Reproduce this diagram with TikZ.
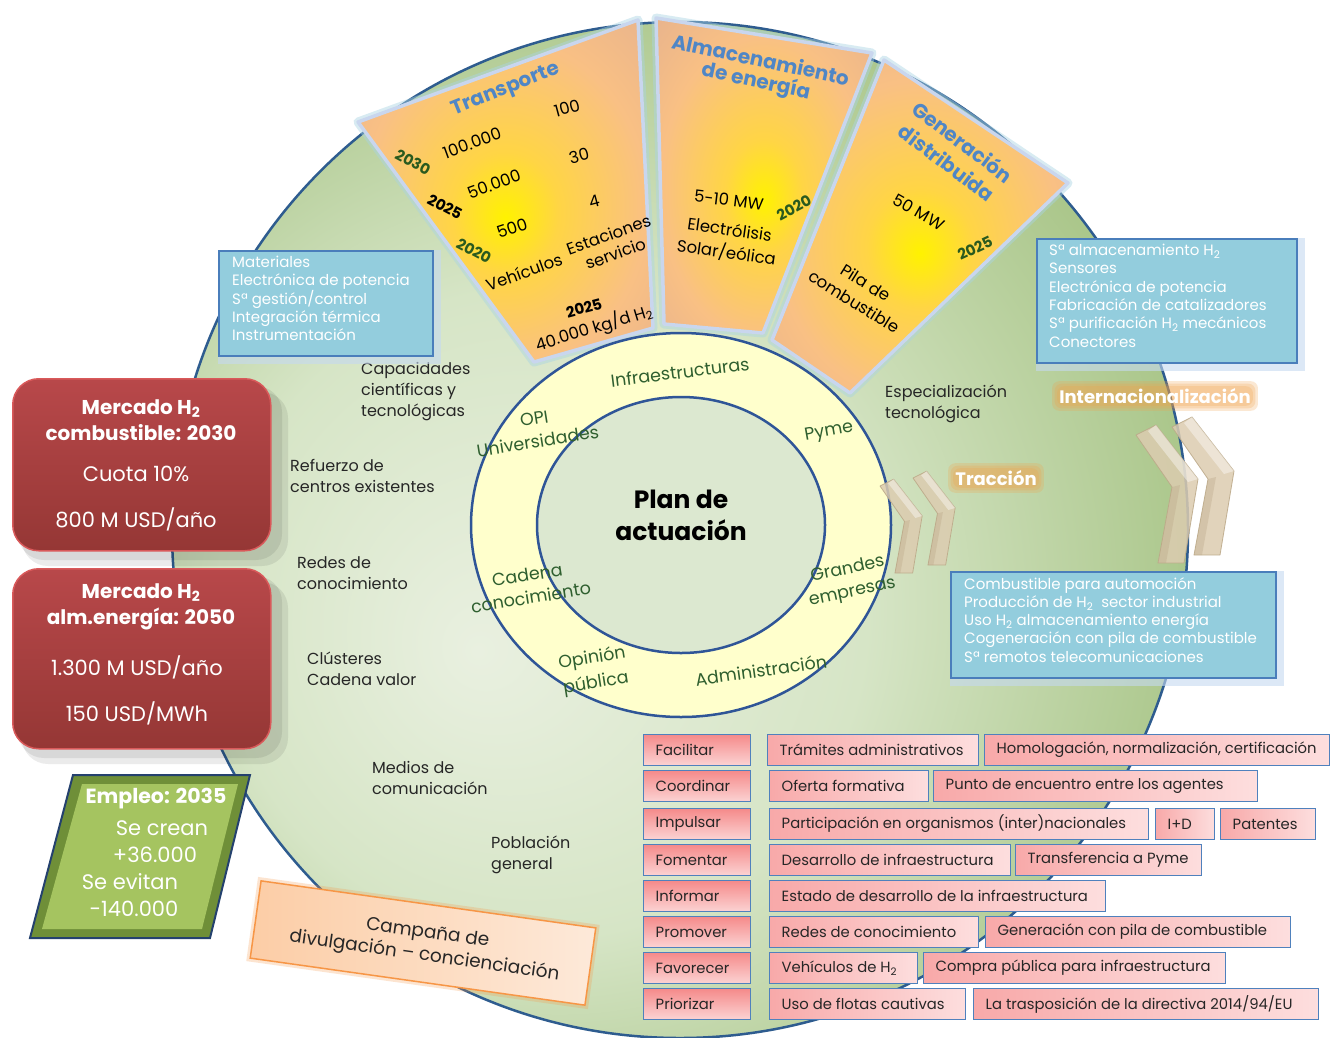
\documentclass[tikz,border=0pt]{standalone}
\usepackage{fontspec}
\setmainfont{Poppins}
\usetikzlibrary{calc}
\definecolor{gdA}{HTML}{E9F0E0}
\definecolor{gdB}{HTML}{D6E5C6}
\definecolor{gdC}{HTML}{A0BF7C}
\definecolor{gdD}{HTML}{6F9A4A}
\definecolor{sy1}{HTML}{FFF200}
\definecolor{sy2}{HTML}{FFD545}
\definecolor{sy3}{HTML}{F9C084}
\definecolor{sy4}{HTML}{E6B28E}
\definecolor{sy5}{HTML}{9C8F76}
\definecolor{diskblue}{HTML}{2E5C8F}
\definecolor{ringblue}{HTML}{2F5597}
\definecolor{ringyel}{HTML}{FFFFCC}
\definecolor{innergr}{HTML}{DCE8D0}
\definecolor{ringtxt}{HTML}{2F5F2F}
\definecolor{secttitle}{HTML}{4F86C6}
\definecolor{yeargreen}{HTML}{2A5A1E}
\definecolor{sectborder}{HTML}{C9D6EE}
\definecolor{sectglow}{HTML}{A9D4E4}
\definecolor{infofill}{HTML}{93CDDD}
\definecolor{infoborder}{HTML}{4A7EBB}
\definecolor{infoglow}{HTML}{C5D9F1}
\definecolor{redA}{HTML}{B8484A}
\definecolor{redB}{HTML}{953735}
\definecolor{redrim}{HTML}{D9595A}
\definecolor{empA}{HTML}{A5C460}
\definecolor{empB}{HTML}{6F8F38}
\definecolor{navy}{HTML}{24416E}
\definecolor{campA}{HTML}{FCCDA6}
\definecolor{campB}{HTML}{FDE9D9}
\definecolor{campBorder}{HTML}{F79646}
\definecolor{chevfill}{HTML}{DCCCB0}
\definecolor{chevedge}{HTML}{BBA888}
\definecolor{glowor}{HTML}{F2A24A}
\definecolor{pinkA}{HTML}{F8A9A9}
\definecolor{pinkB}{HTML}{FDDEDE}
\definecolor{verbA}{HTML}{F58A8A}
\definecolor{verbB}{HTML}{FBD3D3}
\definecolor{cellborder}{HTML}{4F81BD}
\definecolor{txtgray}{HTML}{262626}

\pgfdeclareradialshading{greendisk}{\pgfpoint{-10bp}{-6bp}}{color(0bp)=(gdA); color(16bp)=(gdB); color(33bp)=(gdC); color(50bp)=(gdD)}
\pgfdeclareradialshading{sectorsh}{\pgfpoint{0bp}{-4bp}}{color(0bp)=(sy1); color(9bp)=(sy2); color(24bp)=(sy3); color(38bp)=(sy4); color(50bp)=(sy5)}

\newcommand\fsz[2]{\fontsize{#1}{#2}\selectfont}

\tikzset{
  sectline/.style={draw=sectborder, line width=3.5pt, line join=round},
  sectglowline/.style={draw=sectglow, line width=9pt, opacity=0.45, line join=round},
  stitle/.style={text=secttitle, font=\fsz{20}{22}\bfseries, inner sep=0pt, align=center},
  snum/.style={text=black, font=\fsz{16.5}{18}, inner sep=0pt, align=center},
  syearg/.style={text=yeargreen, font=\fsz{15}{17}\bfseries, inner sep=0pt},
  syearb/.style={text=black, font=\fsz{15}{17}\bfseries, inner sep=0pt},
  ringlbl/.style={text=ringtxt, font=\fsz{17.5}{23}, inner sep=0pt, align=center},
  infobox/.style={fill=infofill, draw=infoborder, line width=1.5pt, inner sep=0pt, anchor=north west},
  infoglowbox/.style={draw=infoglow, line width=9pt, opacity=0.6, inner sep=0pt, anchor=north west},
  infotext/.style={text=white, font=\fsz{15}{18.3}, align=left, inner sep=0pt, anchor=north west},
  lbl/.style={text=txtgray, font=\fsz{16}{21}, align=left, inner sep=0pt, anchor=north west},
  redbox/.style={rounded corners=26pt, top color=redA, bottom color=redB, draw=redrim, line width=1.5pt, inner sep=0pt, anchor=north west},
  redtxtb/.style={text=white, font=\fsz{20}{22}\bfseries, inner sep=0pt},
  redtxt/.style={text=white, font=\fsz{21}{23}, inner sep=0pt},
  emptxt/.style={text=white, font=\fsz{21}{23}, inner sep=0pt},
  cellbox/.style={draw=cellborder, line width=1.3pt, left color=pinkA, right color=pinkB, minimum height=31pt, inner sep=0pt},
  verbbox/.style={draw=cellborder, line width=1.3pt, top color=verbA, bottom color=verbB, minimum height=31pt, inner sep=0pt},
  celltxt/.style={text=txtgray, font=\fsz{14.8}{16}, inner sep=0pt},
  glowfont/.style={font=\fsz{18}{20}\bfseries, inner sep=0pt},
  chev/.style={fill=chevfill, draw=chevedge, line width=0.8pt, opacity=0.85, line join=round},
}

\newcommand\cell[6]{%
  \pgfmathsetmacro\cw{#4-#3}%
  \node[#2, minimum width=\cw pt, anchor=west] (#1) at (#3,#5) {};
  \node[celltxt, anchor=west] (#1t) at ([xshift=12.5pt]#1.west) {#6};}

\newcommand\glowtext[4]{%
  \path node[glowfont] (#1ph) at (#2,#3) {\phantom{#4}};
  \foreach \g in {7,4.5,2}
    {\fill[glowor, opacity=0.24, rounded corners=7pt] ([shift={(-\g,\g)}]#1ph.south west) rectangle ([shift={(\g,-\g)}]#1ph.north east);}
  \node[glowfont, text=white] (#1) at (#2,#3) {#4};}

\newcommand\chevron[4]{% name, x, y, scale
  \begin{scope}[shift={(#2,#3)}, scale=#4]
    \coordinate (#1) at (0,0);
    \path[chev] (#1) -- (20,-10) -- (62,44) -- (48,128) -- (22,128) -- (36,52) -- cycle;
    \path[fill=white, opacity=0.4] (20,-10) -- (62,44) -- (52,47) -- (12,-4) -- cycle;
    \path[fill=chevedge, opacity=0.35] (36,52) -- (22,128) -- (30,128) -- (44,50) -- cycle;
  \end{scope}}

\begin{document}
\begin{tikzpicture}[x=1pt,y=-1pt]
\useasboundingbox (0,0) rectangle (1330,1037);
\fill[white] (0,0) rectangle (1330,1037);

% ---------- big green disk
\shade[shading=greendisk] (680,530) circle [radius=508];
\draw[diskblue, line width=2.5pt] (680,530) circle [radius=508];

% ---------- sectors
\path[sectglowline] (358,122) -- (638,20) -- (653,328) -- (534,362) -- cycle;
\path[sectglowline] (656,18) -- (872,53) -- (763,333) -- (664,324) -- cycle;
\path[sectglowline] (884,60) -- (1068,183) -- (850,393) -- (772,340) -- cycle;
\shade[shading=sectorsh] (358,122) -- (638,20) -- (653,328) -- (534,362) -- cycle;
\shade[shading=sectorsh] (656,18) -- (872,53) -- (763,333) -- (664,324) -- cycle;
\shade[shading=sectorsh] (884,60) -- (1068,183) -- (850,393) -- (772,340) -- cycle;
\draw[sectline] (358,122) -- (638,20) -- (653,328) -- (534,362) -- cycle;
\draw[sectline] (656,18) -- (872,53) -- (763,333) -- (664,324) -- cycle;
\draw[sectline] (884,60) -- (1068,183) -- (850,393) -- (772,340) -- cycle;

% transport texts
\node[stitle, rotate=22] (tTitle) at (506,90) {Transporte};
\node[snum, rotate=20] (t1) at (472,143) {100.000};
\node[snum, rotate=15] (t2) at (567,108) {100};
\node[syearg, rotate=-28] (t3) at (413,162) {2030};
\node[snum, rotate=20] (t4) at (494,184) {50.000};
\node[snum, rotate=15] (t5) at (579,156) {30};
\node[syearb, rotate=-28] (t6) at (445,207) {2025};
\node[snum, rotate=15] (t7) at (594,201) {4};
\node[snum, rotate=18] (t8) at (512,228) {500};
\node[syearg, rotate=-28] (t9) at (474,251) {2020};
\node[snum, rotate=20, font=\fsz{16.5}{20}] (t10) at (612,244) {Estaciones\\servicio};
\node[snum, rotate=20] (t12) at (524,272) {Vehículos};
\node[syearb, rotate=15] (t13) at (584,308) {2025};
\node[snum, rotate=17] (t14) at (594,328) {40.000 kg/d H\textsubscript{2}};

% almacenamiento texts
\node[stitle, rotate=-12, font=\fsz{20}{21}\bfseries] (aTitle) at (758,72) {Almacenamiento\\de energía};
\node[snum, rotate=-7] (a1) at (729,200) {5-10 MW};
\node[syearg, rotate=28] (a2) at (794,208) {2020};
\node[snum, rotate=-8, font=\fsz{16.5}{23}] (a3) at (728,242) {Electrólisis\\Solar/eólica};

% generacion texts
\node[stitle, rotate=-37, font=\fsz{20}{26}\bfseries] (gTitle) at (955,152) {Generación\\distribuida};
\node[snum, rotate=-30] (g1) at (919,212) {50 MW};
\node[syearg, rotate=25] (g2) at (975,248) {2025};
\node[snum, rotate=-32, font=\fsz{16.5}{22}] (g3) at (860,292) {Pila de\\combustible};

% ---------- central ring
\fill[ringyel] (681,525) ellipse [x radius=210, y radius=192];
\fill[innergr] (681,525) ellipse [x radius=144, y radius=128];
\draw[ringblue, line width=2.5pt] (681,525) ellipse [x radius=210, y radius=192];
\draw[ringblue, line width=2.5pt] (681,525) ellipse [x radius=144, y radius=128];
\node[font=\fsz{25}{32}\bfseries, align=center, inner sep=0pt] (plan) at (681,515) {Plan de\\actuación};

\node[ringlbl, rotate=7] (r1) at (680,372) {Infraestructuras};
\node[ringlbl, rotate=9] (r2) at (536,430) {OPI\\Universidades};
\node[ringlbl, rotate=10] (r4) at (829,432) {Pyme};
\node[ringlbl, rotate=9] (r5) at (529,586) {Cadena\\conocimiento};
\node[ringlbl, rotate=12] (r7) at (850,581) {Grandes\\empresas};
\node[ringlbl, rotate=9, font=\fsz{17.5}{25}] (r9) at (594,671) {Opinión\\pública};
\node[ringlbl, rotate=8] (r11) at (761,670) {Administración};

% ---------- disk labels
\node[lbl] (l1) at (361,362) {Capacidades\\científicas y\\tecnológicas};
\node[lbl] (l2) at (290,459) {Refuerzo de\\centros existentes};
\node[lbl] (l3) at (297,556) {Redes de\\conocimiento};
\node[lbl] (l4) at (307,652) {Clústeres\\Cadena valor};
\node[lbl] (l5) at (372,761) {Medios de\\comunicación};
\node[lbl] (l6) at (491,836) {Población\\general};
\node[lbl] (l7) at (885,385) {Especialización\\tecnológica};

% ---------- chevrons
\chevron{c1}{880}{486}{0.68}
\chevron{c2}{913}{478}{0.68}
\chevron{c3}{1136}{435}{1}
\chevron{c4}{1172}{427}{1}
\glowtext{trac}{996}{478}{Tracción}
\glowtext{inter}{1155}{396}{Internacionalización}

% ---------- blue info boxes
\node[infoglowbox, minimum width=214pt, minimum height=105pt] (b1g) at (218,250) {};
\node[infobox, minimum width=214pt, minimum height=105pt] (b1) at (218,250) {};
\node[infotext] (b1t) at (232,256) {Materiales\\Electrónica de potencia\\Sª gestión/control\\Integración térmica\\Instrumentación};

\node[infoglowbox, minimum width=260pt, minimum height=124pt] (b2g) at (1036,238) {};
\node[infobox, minimum width=260pt, minimum height=124pt] (b2) at (1036,238) {};
\node[infotext] (b2t) at (1049,244) {Sª almacenamiento H\textsubscript{2}\\Sensores\\Electrónica de potencia\\Fabricación de catalizadores\\Sª purificación H\textsubscript{2} mecánicos\\Conectores};

\node[infoglowbox, minimum width=325pt, minimum height=106pt] (b3g) at (950,571) {};
\node[infobox, minimum width=325pt, minimum height=106pt] (b3) at (950,571) {};
\node[infotext] (b3t) at (964,577) {Combustible para automoción\\Producción de H\textsubscript{2}\ \ sector industrial\\Uso H\textsubscript{2} almacenamiento energía\\Cogeneración con pila de combustible\\Sª remotos telecomunicaciones};

% ---------- red market boxes
\fill[black, opacity=0.08, rounded corners=26pt] (18,386) rectangle (282,560);
\fill[black, opacity=0.08, rounded corners=26pt] (22,392) rectangle (288,566);
\fill[black, opacity=0.08, rounded corners=26pt] (18,576) rectangle (282,758);
\fill[black, opacity=0.08, rounded corners=26pt] (22,582) rectangle (288,764);
\node[redbox, minimum width=258pt, minimum height=172pt] (m1) at (12,378) {};
\node[redtxtb, align=center, font=\fsz{20}{26}\bfseries] (m1a) at (141,420) {Mercado H\textsubscript{2}\\combustible: 2030};
\node[redtxt] (m1c) at (136,474) {Cuota 10\%};
\node[redtxt] (m1d) at (136,519) {800 M USD/año};
\node[redbox, minimum width=258pt, minimum height=180pt] (m2) at (12,568) {};
\node[redtxtb, align=center, font=\fsz{20}{26}\bfseries] (m2a) at (141,607) {Mercado H\textsubscript{2}\\alm.energía: 2050};
\node[redtxt] (m2c) at (137,667) {1.300 M USD/año};
\node[redtxt] (m2d) at (137,713) {150 USD/MWh};

% ---------- empleo parallelogram
\fill[empB] (73,775) -- (250,775) -- (210,938) -- (30,938) -- cycle;
\fill[empA] (82,784) -- (238,784) -- (202,929) -- (42,929) -- cycle;
\draw[navy, line width=2pt] (73,775) -- (250,775) -- (210,938) -- (30,938) -- cycle;
\node[emptxt, font=\fsz{20.5}{22}\bfseries] (e1) at (156,799) {Empleo: 2035};
\node[emptxt] (e2) at (162,828) {Se crean};
\node[emptxt] (e3) at (155,855) {+36.000};
\node[emptxt] (e4) at (130,882) {Se evitan};
\node[emptxt] (e5) at (134,909) {-140.000};

% ---------- campaign box
\node[rotate=-8, draw=campBorder, line width=7pt, opacity=0.25, minimum width=338pt, minimum height=78pt, inner sep=0pt] (campg) at (423,943) {};
\node[rotate=-8, left color=campA, right color=campB, draw=campBorder, line width=1.5pt, minimum width=338pt, minimum height=78pt, inner sep=0pt] (camp) at (423,943) {};
\node[rotate=-8, align=center, text=txtgray, font=\fsz{18.5}{23}, inner sep=0pt] (campt) at (426,945) {Campaña de\\divulgación – concienciación};

% ---------- action table
\cell{v1}{verbbox}{643}{750}{750}{Facilitar}
\cell{v2}{verbbox}{643}{750}{786}{Coordinar}
\cell{v3}{verbbox}{643}{750}{824}{Impulsar}
\cell{v4}{verbbox}{643}{750}{860}{Fomentar}
\cell{v5}{verbbox}{643}{750}{896}{Informar}
\cell{v6}{verbbox}{643}{750}{932}{Promover}
\cell{v7}{verbbox}{643}{750}{968}{Favorecer}
\cell{v8}{verbbox}{643}{750}{1004}{Priorizar}

\cell{c11}{cellbox}{767}{978}{750}{Trámites administrativos}
\cell{c12}{cellbox}{984}{1329}{750}{Homologación, normalización, certificación}
\cell{c21}{cellbox}{769}{928}{786}{Oferta formativa}
\cell{c22}{cellbox}{933}{1257}{786}{Punto de encuentro entre los agentes}
\cell{c31}{cellbox}{769}{1148}{824}{Participación en organismos (inter)nacionales}
\cell{c32}{cellbox}{1155}{1214}{824}{I+D}
\cell{c33}{cellbox}{1220}{1315}{824}{Patentes}
\cell{c41}{cellbox}{769}{1010}{860}{Desarrollo de infraestructura}
\cell{c42}{cellbox}{1015}{1201}{860}{Transferencia a Pyme}
\cell{c51}{cellbox}{769}{1105}{896}{Estado de desarrollo de la infraestructura}
\cell{c61}{cellbox}{769}{978}{932}{Redes de conocimiento}
\cell{c62}{cellbox}{985}{1290}{932}{Generación con pila de combustible}
\cell{c71}{cellbox}{769}{917}{968}{Vehículos de H\textsubscript{2}}
\cell{c72}{cellbox}{923}{1225}{968}{Compra pública para infraestructura}
\cell{c81}{cellbox}{769}{965}{1004}{Uso de flotas cautivas}
\cell{c82}{cellbox}{973}{1318}{1004}{La trasposición de la directiva 2014/94/EU}

\end{tikzpicture}
\end{document}
